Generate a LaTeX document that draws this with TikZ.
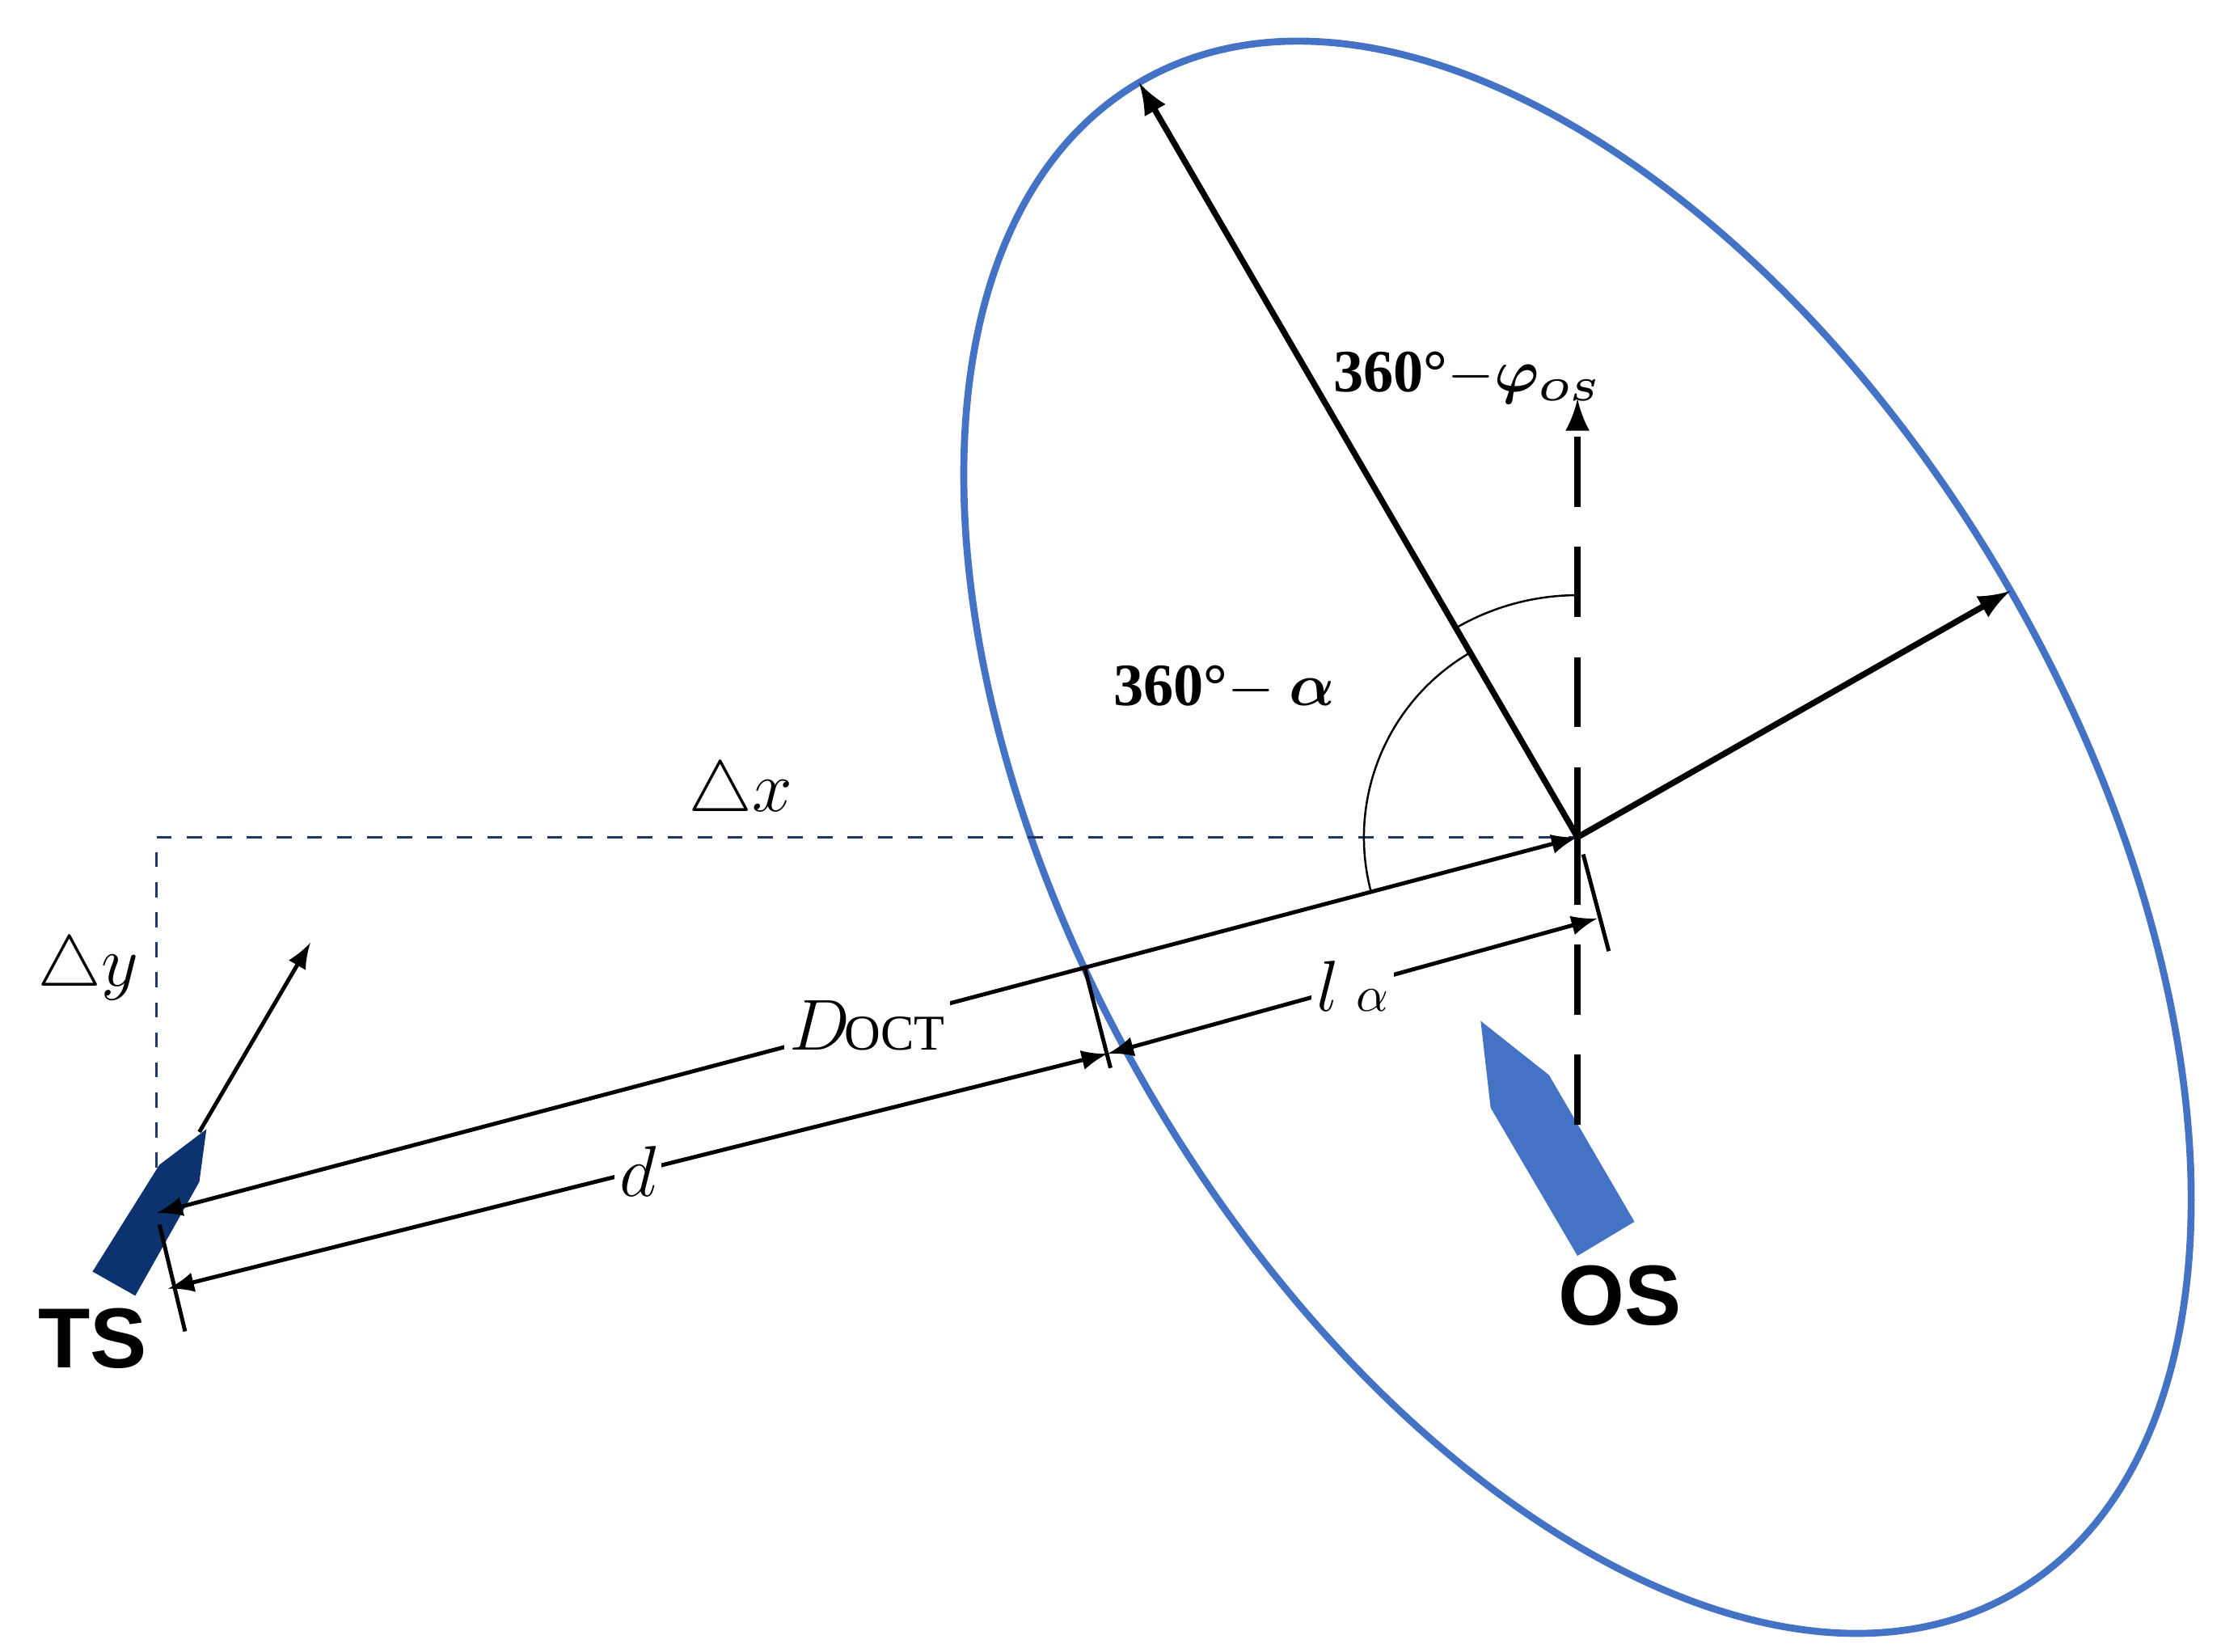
\documentclass[tikz,border=0pt]{standalone}
\usepackage{amsmath,amssymb,bm}
\usepackage{fontspec}
\setmainfont{Liberation Serif}
\newfontfamily\shipfont{Liberation Sans}
\usetikzlibrary{arrows,calc}
\definecolor{zoneblue}{RGB}{68,114,196}
\definecolor{tsnavy}{RGB}{12,50,112}
\definecolor{gridnavy}{RGB}{31,56,100}
\tikzstyle{dim} = [thick,<->,>=latex]
\tikzstyle{vec} = [very thick,->,>=latex]
\tikzstyle{tick} = [thick]
\tikzstyle{lbl} = [font=\fontsize{14}{14}\selectfont, inner sep=1pt]
\tikzstyle{ang} = [font=\bfseries\fontsize{12}{12}\selectfont]
\tikzstyle{ship} = [font=\shipfont\bfseries\fontsize{17}{17}\selectfont]
\begin{document}
\begin{tikzpicture}[x=0.01cm,y=-0.01cm]
        \useasboundingbox (0,0) rectangle (1560,1160);
        % points
        \coordinate (os) at (1108,588);
        \coordinate (ts) at (110,852);
        \coordinate (mid) at (778,740);
        \coordinate (la) at (1122,645);
        \coordinate (tsd) at (118,905);
        \coordinate (major) at (800,58);
        \coordinate (minor) at (1412,415);
        \coordinate (north) at (1108,280);
        \coordinate (south) at (1108,790);
        \coordinate (corner) at (110,588);
        \coordinate (tsbow) at (140,795);
        \coordinate (tshead) at (218,662);
        % zone
        \draw [zoneblue, line width=1.4pt, rotate around={-60:(os)}] (os) ellipse (613 and 350);
        % ships
        \fill [tsnavy] (65,893) -- (112,818) -- (145,793) -- (140,830) -- (95,910) -- cycle;
        \fill [zoneblue] (1040,717) -- (1047,778) -- (1108,882) -- (1148,858) -- (1088,755) -- cycle;
        \node (tslbl) [ship] at (65,940) {TS};
        \node (oslbl) [ship] at (1138,910) {OS};
        % grid offsets
        \draw [gridnavy, dashed] (110,820) -- (corner) -- (os);
        \node (dx) [lbl] at (520,557) {$\triangle x$};
        \node (dy) [lbl] at (62,680) {$\triangle y$};
        % headings
        \draw [very thick, dashed, dash pattern=on 14pt off 8pt] (south) -- (os);
        \draw [vec, dashed, dash pattern=on 14pt off 8pt] (os) -- (north);
        \draw [vec] (os) -- (major);
        \draw [vec] (os) -- (minor);
        \draw [vec, thick] (tsbow) -- (tshead);
        % angles
        \draw (os) ++(-90:170) arc (-90:-120:170);
        \draw (os) ++(-120:150) arc (-120:-195:150);
        \node (phi) [ang] at (1030,265) {360°$-\bm{\varphi}_{\scriptscriptstyle\bm{OS}}$};
        \node (alpha) [ang] at (860,483) {360°$-$ $\bm{\alpha}$};
        % distances
        \draw [dim] (ts) -- node [lbl, fill=white, pos=0.5] {$D$\kern-1pt{\fontsize{10}{10}\selectfont OCT}} (os);
        \draw [dim] (tsd) -- node [lbl, fill=white] {$d$} (mid);
        \draw [dim] (mid) -- node [lbl, fill=white] {$l$ $\scriptstyle\alpha$} (la);
        \draw [tick] (762,680) -- (780,750);
        \draw [tick] (1112,600) -- (1130,668);
        \draw [tick] (112,860) -- (130,935);
    \end{tikzpicture}
\end{document}
